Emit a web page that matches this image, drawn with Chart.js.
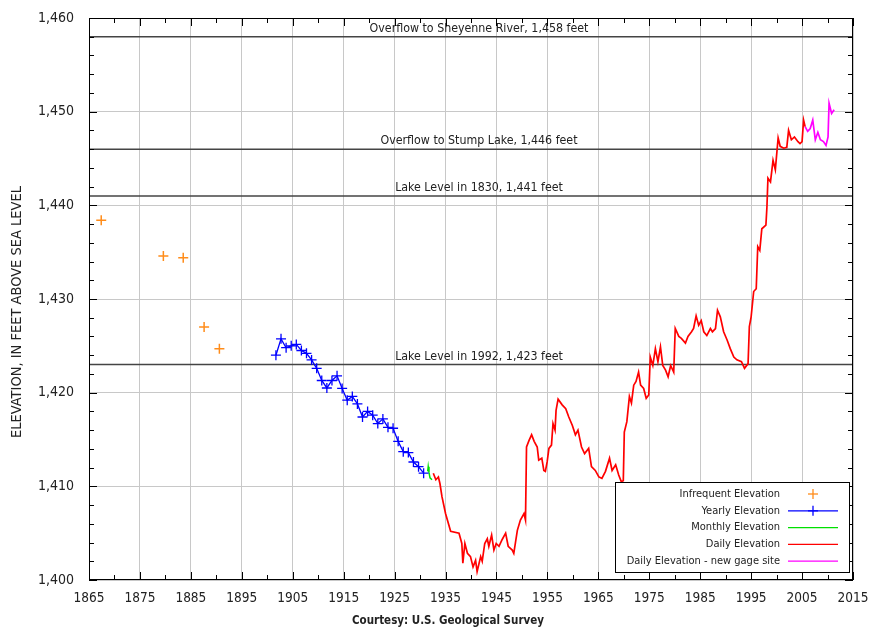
<!DOCTYPE html>
<html>
<head>
<meta charset="utf-8">
<title>Devils Lake elevation</title>
<script src="https://cdn.jsdelivr.net/npm/chart.js@4.4.0/dist/chart.umd.min.js"></script>
<style>
  body { margin: 0; background: #fff; }
  #wrap { width: 869px; height: 629px; }
</style>
</head>
<body>
<div id="wrap"><canvas id="lakeChart" width="869" height="629"></canvas></div>
<script>
// axis ticks
var xTicks = [1865, 1875, 1885, 1895, 1905, 1915, 1925, 1935, 1945, 1955, 1965, 1975, 1985, 1995, 2005, 2015];
var yTicks = [1400, 1410, 1420, 1430, 1440, 1450, 1460];

// infrequent readings
var infrequentYears = [1867.4, 1879.6, 1883.5, 1887.6, 1890.6];
var infrequentElev  = [1438.4, 1434.6, 1434.4, 1427.0, 1424.7];

// yearly readings
var yearlyYears = [1901.7, 1902.7, 1903.7, 1904.7, 1905.7, 1906.7, 1907.7, 1908.7, 1909.7, 1910.7,
                   1911.7, 1912.7, 1913.7, 1914.7, 1915.7, 1916.7, 1917.7, 1918.7, 1919.7, 1920.7,
                   1921.7, 1922.7, 1923.7, 1924.7, 1925.7, 1926.7, 1927.7, 1928.7, 1929.7, 1930.7];
var yearlyElev  = [1424.0, 1425.75, 1424.8, 1425.0, 1425.15, 1424.5, 1424.2, 1423.5, 1422.6, 1421.3,
                   1420.5, 1421.3, 1421.8, 1420.45, 1419.2, 1419.6, 1418.8, 1417.4, 1418.0, 1417.6,
                   1416.7, 1417.2, 1416.3, 1416.2, 1414.8, 1413.7, 1413.6, 1412.6, 1412.1, 1411.4];

// monthly readings
var monthlyYears = [1931.5, 1931.6, 1931.75, 1931.95, 1932.35];
var monthlyElev  = [1411.6, 1412.1, 1411.5, 1410.9, 1410.7];

// daily readings
var dailyYears = [1932.6, 1933.1, 1933.6, 1933.9, 1934.3, 1935.0, 1936.0, 1937.65, 1938.2, 1938.4,
                  1938.8, 1939.3, 1939.9, 1940.4, 1940.9, 1941.2, 1941.9, 1942.2, 1942.7, 1943.2,
                  1943.5, 1944.05, 1944.5, 1944.95, 1945.5, 1946.1, 1946.8, 1947.3, 1948.1, 1948.4,
                  1949.1, 1949.7, 1950.4, 1950.7, 1950.9, 1951.4, 1951.9, 1952.4, 1953.0, 1953.3,
                  1953.9, 1954.3, 1954.6, 1954.95, 1955.3, 1955.8, 1956.1, 1956.5, 1956.7, 1957.1,
                  1957.9, 1958.6, 1959.2, 1959.9, 1960.5, 1961.0, 1961.7, 1962.3, 1963.1, 1963.65,
                  1964.4, 1965.1, 1965.7, 1966.4, 1967.2, 1967.7, 1968.4, 1969.0, 1969.5, 1969.9,
                  1970.1, 1970.6, 1971.1, 1971.5, 1971.95, 1972.4, 1972.9, 1973.3, 1973.9, 1974.4,
                  1974.9, 1975.2, 1975.7, 1976.2, 1976.7, 1977.2, 1977.65, 1978.2, 1978.7, 1979.2,
                  1979.8, 1980.1, 1980.8, 1981.3, 1982.1, 1982.6, 1983.3, 1983.7, 1984.2, 1984.7,
                  1985.2, 1985.7, 1986.3, 1987.0, 1987.4, 1988.0, 1988.4, 1988.95, 1989.6, 1990.3,
                  1990.9, 1991.6, 1992.2, 1993.1, 1993.7, 1994.4, 1994.65, 1995.0, 1995.5, 1996.0,
                  1996.3, 1996.7, 1997.1, 1997.9, 1998.1, 1998.3, 1998.8, 1999.3, 1999.75, 2000.3,
                  2000.7, 2001.4, 2002.0, 2002.35, 2002.9, 2003.5, 2004.2, 2004.6, 2005.0, 2005.3, 2005.6];
var dailyElev  = [1411.4, 1410.7, 1411.0, 1410.3, 1408.9, 1407.1, 1405.2, 1405.0, 1403.9, 1401.8,
                  1403.9, 1402.85, 1402.5, 1401.4, 1402.1, 1400.9, 1402.5, 1402.0, 1403.9, 1404.4,
                  1403.6, 1404.8, 1403.2, 1403.9, 1403.6, 1404.3, 1405.0, 1403.6, 1403.2, 1402.85,
                  1405.3, 1406.4, 1407.1, 1406.4, 1414.2, 1414.9, 1415.5, 1414.8, 1414.2, 1412.8,
                  1413.0, 1411.7, 1411.6, 1412.6, 1414.05, 1414.4, 1416.7, 1416.0, 1418.1, 1419.3,
                  1418.7, 1418.3, 1417.4, 1416.5, 1415.5, 1416.0, 1414.2, 1413.5, 1414.05, 1412.1,
                  1411.7, 1411.0, 1410.85, 1411.6, 1413.0, 1411.7, 1412.3, 1411.2, 1410.5, 1410.6,
                  1415.8, 1416.9, 1419.6, 1418.9, 1420.8, 1421.2, 1422.2, 1420.8, 1420.45, 1419.4,
                  1419.75, 1423.8, 1422.9, 1424.7, 1423.3, 1424.9, 1422.9, 1422.4, 1421.7, 1422.9,
                  1422.2, 1426.85, 1426.0, 1425.8, 1425.3, 1426.0, 1426.5, 1426.85, 1428.2, 1427.2,
                  1427.7, 1426.5, 1426.1, 1426.85, 1426.5, 1426.85, 1428.8, 1428.1, 1426.5, 1425.6,
                  1424.7, 1423.8, 1423.5, 1423.3, 1422.6, 1423.1, 1427.05, 1428.1, 1430.8, 1431.1,
                  1435.6, 1435.2, 1437.5, 1437.9, 1439.8, 1442.9, 1442.5, 1444.8, 1443.8, 1447.2,
                  1446.3, 1446.1, 1446.2, 1448.0, 1447.0, 1447.3, 1446.8, 1446.6, 1446.8, 1449.1, 1448.4];

// daily readings at the new gage site
var newGageYears = [2005.6, 2006.1, 2006.6, 2007.1, 2007.6, 2008.1, 2008.6, 2009.2, 2009.7, 2010.1, 2010.3, 2010.8, 2011.3];
var newGageElev  = [1448.4, 1447.9, 1448.2, 1449.1, 1447.0, 1447.8, 1447.0, 1446.8, 1446.4, 1447.3, 1450.9, 1449.8, 1450.2];

// reference levels
var refLevels = [1458, 1446, 1441, 1423];
var refLabels = ['Overflow to Sheyenne River, 1,458 feet', 'Overflow to Stump Lake, 1,446 feet',
                 'Lake Level in 1830, 1,441 feet', 'Lake Level in 1992, 1,423 feet'];

var FONT = "'Liberation Sans Narrow', 'DejaVu Sans Condensed', sans-serif";

function pairs(xs, ys) {
    return xs.map(function(x, i) { return { x: x, y: ys[i] }; });
}

var datasets = [
    { label: 'Infrequent Elevation', data: pairs(infrequentYears, infrequentElev), showLine: false,
      pointStyle: 'cross', pointRadius: 5, borderColor: '#ff8c1a', backgroundColor: '#ff8c1a', borderWidth: 1.5 },
    { label: 'Yearly Elevation', data: pairs(yearlyYears, yearlyElev),
      pointStyle: 'cross', pointRadius: 5, borderColor: '#0000ff', backgroundColor: '#0000ff', borderWidth: 1.3 },
    { label: 'Monthly Elevation', data: pairs(monthlyYears, monthlyElev),
      pointRadius: 0, borderColor: '#00e000', borderWidth: 1.5 },
    { label: 'Daily Elevation', data: pairs(dailyYears, dailyElev),
      pointRadius: 0, borderColor: '#ff0000', borderWidth: 1.7 },
    { label: 'Daily Elevation - new gage site', data: pairs(newGageYears, newGageElev),
      pointRadius: 0, borderColor: '#ff00ff', borderWidth: 1.7 }
];
refLevels.forEach(function(v) {
    datasets.push({ label: 'ref', data: [{ x: 1865, y: v }, { x: 2015, y: v }],
                    pointRadius: 0, borderColor: '#444', borderWidth: 1.5 });
});

// reference labels, inward ticks, frame, legend, axis title and credit
var overlay = {
    id: 'overlay',
    afterDatasetsDraw: function(chart) {
        var ctx = chart.ctx, a = chart.chartArea;
        var xs = chart.scales.x, ys = chart.scales.y;
        ctx.save();

        ctx.font = '12.3px ' + FONT;
        ctx.fillStyle = '#222';
        ctx.textAlign = 'center';
        ctx.textBaseline = 'bottom';
        refLevels.forEach(function(v, i) {
            ctx.fillText(refLabels[i], (a.left + a.right) / 2 + 8, ys.getPixelForValue(v) - 2);
        });

        ctx.strokeStyle = '#000';
        ctx.lineWidth = 1;
        function seg(x1, y1, x2, y2) { ctx.beginPath(); ctx.moveTo(x1, y1); ctx.lineTo(x2, y2); ctx.stroke(); }
        for (var t = xTicks[0]; t <= xTicks[xTicks.length - 1]; t += 5) {
            var px = Math.round(xs.getPixelForValue(t)) + 0.5;
            var len = (t - xTicks[0]) % 10 === 0 ? 8 : 5;
            seg(px, a.bottom, px, a.bottom - len);
            seg(px, a.top, px, a.top + len);
        }
        for (var v = yTicks[0]; v <= yTicks[yTicks.length - 1]; v += 2) {
            var py = Math.round(ys.getPixelForValue(v)) + 0.5;
            var l2 = (v - yTicks[0]) % 10 === 0 ? 8 : 5;
            seg(a.left, py, a.left + l2, py);
            seg(a.right, py, a.right - l2, py);
        }
        ctx.strokeRect(a.left + 0.5, a.top + 0.5, a.width - 1, a.height - 1);

        // legend box
        var bx = 615, by = 482, bw = 234, bh = 90;
        ctx.fillStyle = '#fff';
        ctx.fillRect(bx, by, bw, bh);
        ctx.strokeStyle = '#000';
        ctx.strokeRect(bx + 0.5, by + 0.5, bw, bh);
        ctx.font = '11px ' + FONT;
        ctx.textAlign = 'right';
        ctx.textBaseline = 'middle';
        for (var i = 0; i < 5; i++) {
            var ds = datasets[i];
            var ry = by + 12 + i * 16.8;
            ctx.fillStyle = '#222';
            ctx.fillText(ds.label, 780, ry);
            ctx.strokeStyle = ds.borderColor;
            ctx.lineWidth = 1.3;
            if (i > 0) seg(788, ry, 838, ry);
            if (i < 2) { seg(813, ry - 5, 813, ry + 5); seg(808, ry, 818, ry); }
        }

        // y axis title
        ctx.save();
        ctx.translate(17, 312);
        ctx.rotate(-Math.PI / 2);
        ctx.font = '14.5px ' + FONT;
        ctx.fillStyle = '#222';
        ctx.textAlign = 'center';
        ctx.textBaseline = 'middle';
        ctx.fillText('ELEVATION, IN FEET ABOVE SEA LEVEL', 0, 0);
        ctx.restore();

        ctx.font = 'bold 11.5px ' + FONT;
        ctx.fillStyle = '#222';
        ctx.textAlign = 'center';
        ctx.textBaseline = 'middle';
        ctx.fillText('Courtesy: U.S. Geological Survey', 448, 621);
        ctx.restore();
    }
};

var chart = new Chart(document.getElementById('lakeChart').getContext('2d'), {
    type: 'line',
    data: { datasets: datasets },
    options: {
        responsive: false,
        animation: false,
        devicePixelRatio: 1,
        layout: { padding: { left: 0, right: 16, top: 18, bottom: 0 } },
        plugins: { legend: { display: false }, tooltip: { enabled: false } },
        elements: { line: { tension: 0 } },
        scales: {
            x: {
                type: 'linear', min: 1865, max: 2015,
                afterBuildTicks: function(s) { s.ticks = xTicks.map(function(v) { return { value: v }; }); },
                afterFit: function(s) { s.height = 49; s.paddingLeft = 0; s.paddingRight = 0; },
                grid: { color: '#c8c8c8', drawTicks: false },
                border: { display: false },
                ticks: { padding: 10, color: '#222', font: { family: FONT, size: 13.5 },
                         maxRotation: 0, autoSkip: false, callback: function(v) { return String(v); } }
            },
            y: {
                type: 'linear', min: 1400, max: 1460,
                afterBuildTicks: function(s) { s.ticks = yTicks.map(function(v) { return { value: v }; }); },
                afterFit: function(s) { s.width = 89; s.paddingTop = 0; s.paddingBottom = 0; },
                grid: { color: '#c8c8c8', drawTicks: false },
                border: { display: false },
                ticks: { padding: 15, color: '#222', font: { family: FONT, size: 14 },
                         callback: function(v) { return v.toLocaleString('en-US'); } }
            }
        }
    },
    plugins: [overlay]
});
</script>
</body>
</html>
